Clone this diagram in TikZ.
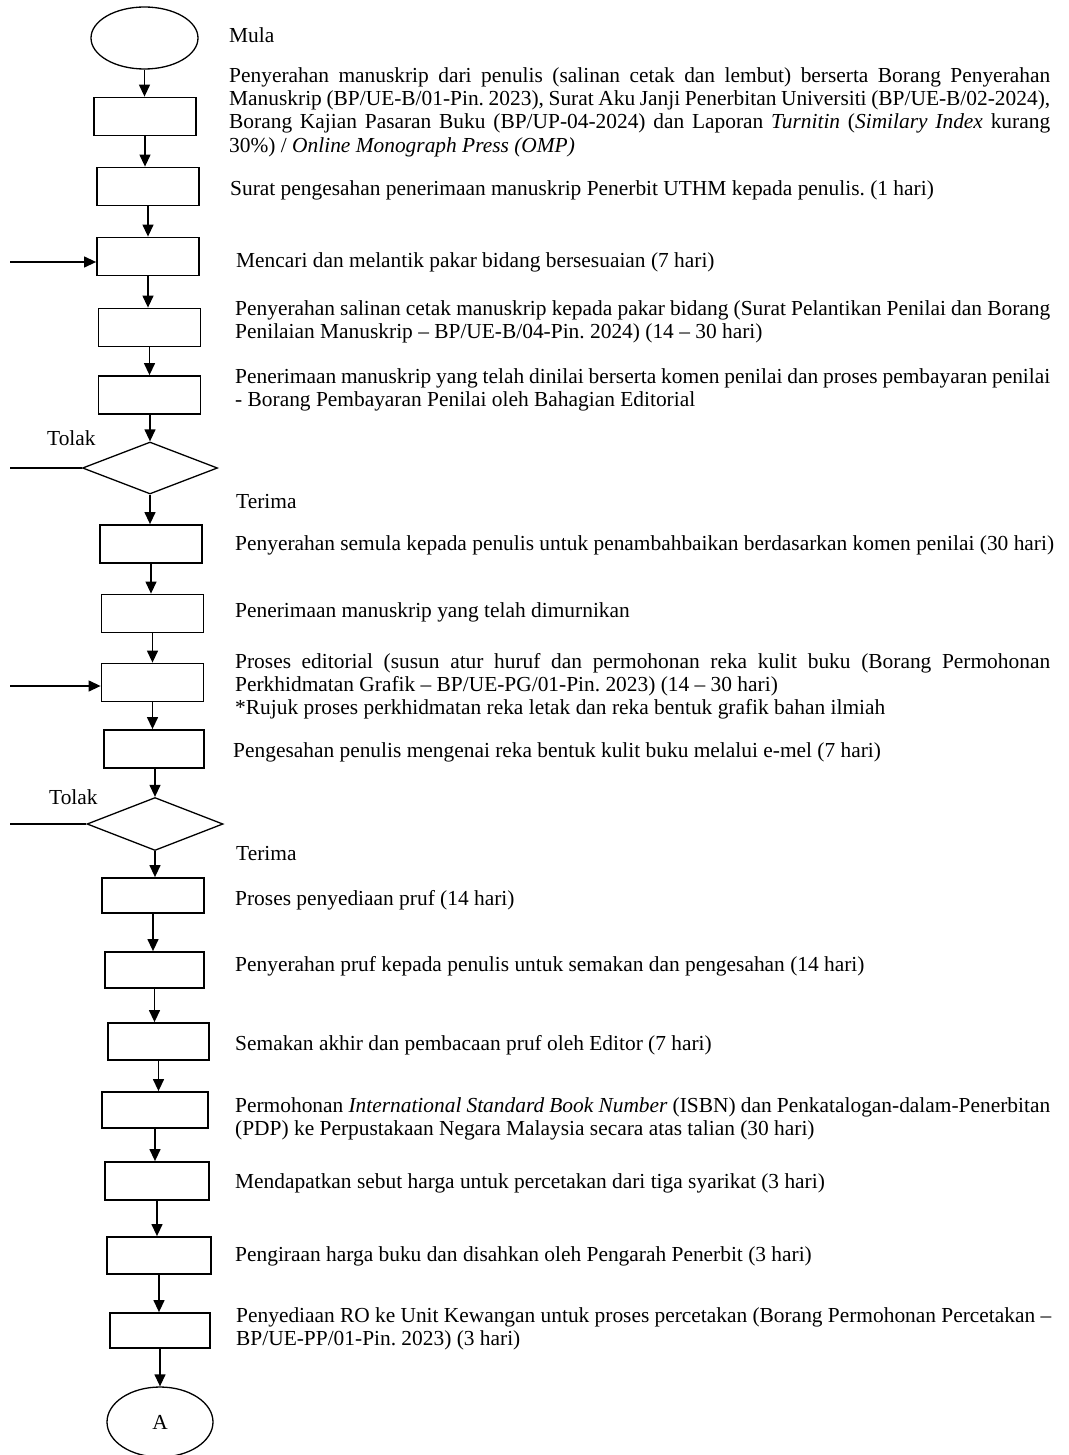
\documentclass[tikz,border=0pt]{standalone}
\usepackage{fontspec}
\setmainfont{Liberation Serif}
\frenchspacing
\usetikzlibrary{shapes.geometric,arrows.meta}

\tikzset{
  stepbox/.style={draw, line width=1.8pt, minimum width=102pt, minimum height=38pt, inner sep=0pt},
  decision/.style={draw, diamond, line width=1.3pt, inner sep=0pt, aspect=2.6, minimum width=135pt, minimum height=52pt},
  terminal/.style={draw, ellipse, line width=1.3pt, minimum width=107pt, minimum height=62pt, inner sep=0pt, font=\fontsize{21.4}{23.3}\selectfont},
  flow/.style={line width=1.3pt, -{Triangle[length=12pt,width=11pt]}},
  desc/.style={anchor=north west, yshift=16.31pt, inner sep=0pt, font=\fontsize{21.4}{23.3}\selectfont, execute at begin node=\strut},
  para/.style={desc, text width=815pt, align=justify},
}

\begin{document}
\begin{tikzpicture}[x=1pt, y=-1pt]
    \useasboundingbox (0,0) rectangle (1068,1455);

    % flowchart shapes
    \node[terminal] (mula) at (144.5,38) {};
    \node[stepbox] (b1) at (145,116.5) {};
    \node[stepbox] (b2) at (148,186.5) {};
    \node[stepbox] (b3) at (148,256.5) {};
    \node[stepbox] (b4) at (149.5,327.5) {};
    \node[stepbox] (b5) at (149.5,395) {};
    \node[decision] (d1) at (150,468) {};
    \node[stepbox] (b6) at (151,544) {};
    \node[stepbox] (b7) at (152.5,613.5) {};
    \node[stepbox] (b8) at (152.5,682.5) {};
    \node[stepbox, minimum width=100pt] (b9) at (154,749) {};
    \node[decision, minimum width=136pt, minimum height=53pt] (d2) at (155,824) {};
    \node[stepbox, minimum height=35pt] (b10) at (153,895.5) {};
    \node[stepbox, minimum width=99pt, minimum height=36pt] (b11) at (154.5,970) {};
    \node[stepbox, minimum width=101pt, minimum height=37pt] (b12) at (158.5,1041.5) {};
    \node[stepbox, minimum width=106pt, minimum height=36pt] (b13) at (155,1110) {};
    \node[stepbox, minimum width=104pt] (b14) at (157,1181) {};
    \node[stepbox, minimum width=104pt, minimum height=37pt] (b15) at (159,1255.5) {};
    \node[stepbox, minimum width=100pt, minimum height=35pt] (b16) at (160,1330.5) {};
    \node[terminal, minimum width=106pt, minimum height=70pt] (endA) at (160,1422) {A};

    % loose ends on the left
    \coordinate (in1) at (10,262);
    \coordinate (in2) at (10,686);
    \coordinate (out1) at (10,468);
    \coordinate (out2) at (10,824);

    % connectors
    \draw[flow] (mula.south) -- (mula.south |- b1.north);
    \draw[flow] (b1.south) -- (b1.south |- b2.north);
    \draw[flow] (b2.south) -- (b2.south |- b3.north);
    \draw[flow] (b3.south) -- (b3.south |- b4.north);
    \draw[flow] (b4.south) -- (b4.south |- b5.north);
    \draw[flow] (d1.north |- b5.south) -- (d1.north);
    \draw[flow] (d1.south) -- (d1.south |- b6.north);
    \draw[flow] (b6.south) -- (b6.south |- b7.north);
    \draw[flow] (b7.south) -- (b7.south |- b8.north);
    \draw[flow] (b8.south) -- (b8.south |- b9.north);
    \draw[flow] (d2.north |- b9.south) -- (d2.north);
    \draw[flow] (d2.south) -- (d2.south |- b10.north);
    \draw[flow] (b10.south) -- (b10.south |- b11.north);
    \draw[flow] (b11.south) -- (b11.south |- b12.north);
    \draw[flow] (b12.south) -- (b12.south |- b13.north);
    \draw[flow] (b13.south) -- (b13.south |- b14.north);
    \draw[flow] (b14.south) -- (b14.south |- b15.north);
    \draw[flow] (b15.south) -- (b15.south |- b16.north);
    \draw[flow] (b16.south) -- (b16.south |- endA.north);
    \draw[flow] (in1) -- (in1 -| b3.west);
    \draw[flow] (in2) -- (in2 -| b8.west);
    \draw[line width=1.3pt] (out1) -- (d1.west);
    \draw[line width=1.3pt] (out2) -- (d2.west);

    % labels
    \node[desc] (tolak1) at (47,445) {Tolak};
    \node[desc] (tolak2) at (49,804) {Tolak};
    \node[desc] (terima1) at (236,508) {Terima};
    \node[desc] (terima2) at (236,860) {Terima};

    % step descriptions
    \node[desc] (t0) at (229,42) {Mula};
    \node[para, text width=821pt] (t1) at (229,82) {Penyerahan manuskrip dari penulis (salinan cetak dan lembut) berserta Borang Penyerahan\linebreak Manuskrip (BP/UE-B/01-Pin. 2023), Surat Aku Janji Penerbitan Universiti (BP/UE-B/02-2024),\linebreak Borang Kajian Pasaran Buku (BP/UP-04-2024) dan Laporan \textit{Turnitin} (\textit{Similary Index} kurang\linebreak 30\%) / \textit{Online Monograph Press (OMP)}};
    \node[desc] (t2) at (230,195) {Surat pengesahan penerimaan manuskrip Penerbit UTHM kepada penulis. (1 hari)};
    \node[desc] (t3) at (236,267) {Mencari dan melantik pakar bidang bersesuaian (7 hari)};
    \node[para] (t4) at (235,315) {Penyerahan salinan cetak manuskrip kepada pakar bidang (Surat Pelantikan Penilai dan Borang\linebreak Penilaian Manuskrip – BP/UE-B/04-Pin. 2024) (14 – 30 hari)};
    \node[para] (t5) at (235,383) {Penerimaan manuskrip yang telah dinilai berserta komen penilai dan proses pembayaran penilai\linebreak - Borang Pembayaran Penilai oleh Bahagian Editorial};
    \node[desc] (t6) at (235,550) {Penyerahan semula kepada penulis untuk penambahbaikan berdasarkan komen penilai (30 hari)};
    \node[desc] (t7) at (235,617) {Penerimaan manuskrip yang telah dimurnikan};
    \node[para] (t8) at (235,668) {Proses editorial (susun atur huruf dan permohonan reka kulit buku (Borang Permohonan\linebreak Perkhidmatan Grafik – BP/UE-PG/01-Pin. 2023) (14 – 30 hari)\\{}*Rujuk proses perkhidmatan reka letak dan reka bentuk grafik bahan ilmiah};
    \node[desc] (t9) at (233,757) {Pengesahan penulis mengenai reka bentuk kulit buku melalui e-mel (7 hari)};
    \node[desc] (t10) at (235,905) {Proses penyediaan pruf (14 hari)};
    \node[desc] (t11) at (235,971) {Penyerahan pruf kepada penulis untuk semakan dan pengesahan (14 hari)};
    \node[desc] (t12) at (235,1050) {Semakan akhir dan pembacaan pruf oleh Editor (7 hari)};
    \node[para] (t13) at (235,1112) {Permohonan \textit{International Standard Book Number} (ISBN) dan Penkatalogan-dalam-Penerbitan\linebreak (PDP) ke Perpustakaan Negara Malaysia secara atas talian (30 hari)};
    \node[desc] (t14) at (235,1188) {Mendapatkan sebut harga untuk percetakan dari tiga syarikat (3 hari)};
    \node[desc] (t15) at (235,1261) {Pengiraan harga buku dan disahkan oleh Pengarah Penerbit (3 hari)};
    \node[para] (t16) at (236,1322) {Penyediaan RO ke Unit Kewangan untuk proses percetakan (Borang Permohonan Percetakan –\linebreak BP/UE-PP/01-Pin. 2023) (3 hari)};
\end{tikzpicture}
\end{document}
